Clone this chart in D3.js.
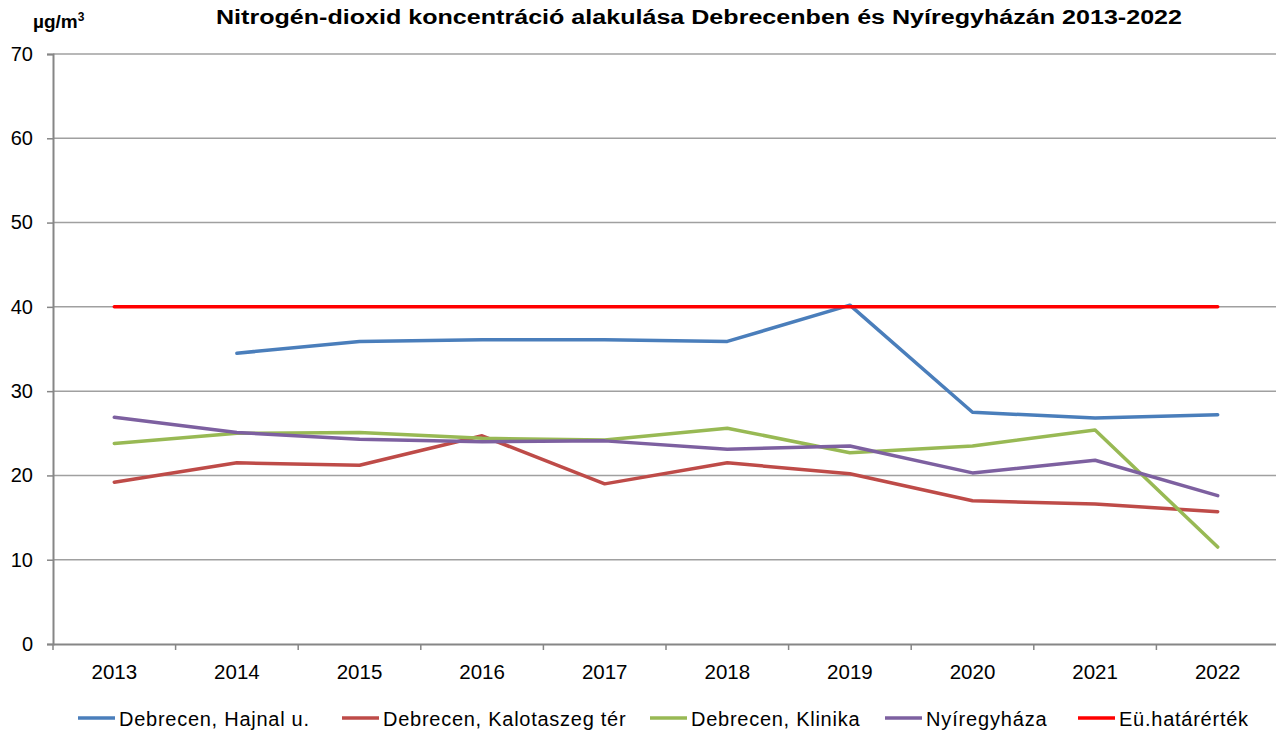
<!DOCTYPE html>
<html>
<head>
<meta charset="utf-8">
<script src="https://cdn.jsdelivr.net/npm/d3@7"></script>
<style>
  body { margin: 0; background: #fff; }
  text { font-family: "Liberation Sans", Arial, sans-serif; fill: #000; }
</style>
</head>
<body>
<div id="chart"></div>
<script>
var years = ['2013','2014','2015','2016','2017','2018','2019','2020','2021','2022'];
var yTicks = [0, 10, 20, 30, 40, 50, 60, 70];

var hajnal = [null, 34.5, 35.9, 36.1, 36.1, 35.9, 40.2, 27.5, 26.8, 27.2];
var kalotaszeg = [19.2, 21.5, 21.2, 24.7, 19.0, 21.5, 20.2, 17.0, 16.6, 15.7];
var klinika = [23.8, 25.0, 25.1, 24.4, 24.2, 25.6, 22.7, 23.5, 25.4, 11.5];
var nyiregyhaza = [26.9, 25.1, 24.3, 24.0, 24.1, 23.1, 23.5, 20.3, 21.8, 17.6];
var hatarertek = [40, 40, 40, 40, 40, 40, 40, 40, 40, 40];

var seriesNames = ['Debrecen, Hajnal u.', 'Debrecen, Kalotaszeg tér', 'Debrecen, Klinika', 'Nyíregyháza', 'Eü.határérték'];
var seriesColors = ['#4a7ebb', '#be4b48', '#98b954', '#7d60a0', '#ff0000'];
var seriesValues = [hajnal, kalotaszeg, klinika, nyiregyhaza, hatarertek];

var width = 1276, height = 731;
var margin = {top: 54, right: -3, bottom: 87, left: 53};

var svg = d3.select('#chart')
    .append('svg')
    .attr('width', width)
    .attr('height', height);

var x = d3.scaleBand()
    .domain(years)
    .range([margin.left, width - margin.right]);

var y = d3.scaleLinear()
    .domain([0, 70])
    .range([height - margin.bottom, margin.top]);

//Gridlines
svg.append('g')
    .selectAll('line')
    .data(yTicks.filter(function(d){ return d > 0; }))
    .enter()
    .append('line')
    .attr('x1', margin.left)
    .attr('x2', width)
    .attr('y1', function(d){ return y(d); })
    .attr('y2', function(d){ return y(d); })
    .style('stroke', '#a0a0a0')
    .style('stroke-width', 1.5);

//Y axis
var yAxis = svg.append('g')
    .attr('transform', 'translate(' + margin.left + ',0)')
    .call(d3.axisLeft(y).tickValues(yTicks).tickSize(6).tickPadding(14));
yAxis.select('.domain').style('stroke', '#868686').style('stroke-width', 2);
yAxis.selectAll('.tick line').style('stroke', '#868686').style('stroke-width', 1.5);
yAxis.selectAll('text')
    .style('font-size', '20px')
    .style('fill', '#000');

//X axis
var xAxis = svg.append('g')
    .attr('transform', 'translate(0,' + y(0) + ')')
    .call(d3.axisBottom(x).tickSize(0).tickPadding(20));
xAxis.select('.domain').style('stroke', '#868686').style('stroke-width', 2);
xAxis.selectAll('text')
    .style('font-size', '20.5px')
    .style('fill', '#000');

//Tick marks between categories
svg.append('g')
    .selectAll('line')
    .data(years)
    .enter()
    .append('line')
    .attr('x1', function(d){ return x(d); })
    .attr('x2', function(d){ return x(d); })
    .attr('y1', y(0))
    .attr('y2', y(0) + 6)
    .style('stroke', '#868686')
    .style('stroke-width', 1.5);

//Lines
var line = d3.line()
    .defined(function(d){ return d !== null; })
    .x(function(d, i){ return x(years[i]) + x.bandwidth() / 2; })
    .y(function(d){ return y(d); });

svg.append('g')
    .selectAll('path')
    .data(seriesValues)
    .enter()
    .append('path')
    .attr('d', function(d){ return line(d); })
    .style('fill', 'none')
    .style('stroke', function(d, i){ return seriesColors[i]; })
    .style('stroke-width', 3.5)
    .style('stroke-linejoin', 'round')
    .style('stroke-linecap', 'round');

//Title
svg.append('text')
    .attr('x', 699)
    .attr('y', 24)
    .attr('text-anchor', 'middle')
    .style('font-weight', 700)
    .style('font-size', '20px')
    .attr('textLength', 966)
    .attr('lengthAdjust', 'spacingAndGlyphs')
    .text('Nitrogén-dioxid koncentráció alakulása Debrecenben és Nyíregyházán 2013-2022');

//Unit label
var unit = svg.append('text')
    .attr('x', 33)
    .attr('y', 28)
    .style('font-weight', 700)
    .style('font-size', '19px')
    .text('µg/m');
unit.append('tspan')
    .attr('dy', -7)
    .style('font-size', '12px')
    .text('3');

//Legend
var legendX = [78, 342, 650, 885, 1078];
var legend = svg.append('g')
    .selectAll('g')
    .data(seriesNames)
    .enter()
    .append('g')
    .attr('transform', function(d, i){ return 'translate(' + legendX[i] + ',718)'; });
legend.append('line')
    .attr('x1', 0)
    .attr('x2', 37)
    .attr('y1', 0)
    .attr('y2', 0)
    .style('stroke', function(d, i){ return seriesColors[i]; })
    .style('stroke-width', 3.5);
legend.append('text')
    .attr('x', 41)
    .attr('y', 8)
    .style('font-size', '20px')
    .each(function(d){
        var t = d3.select(this).text(d);
        var w = this.getComputedTextLength();
        t.attr('textLength', w * 1.075).attr('lengthAdjust', 'spacing');
    });
</script>
</body>
</html>
